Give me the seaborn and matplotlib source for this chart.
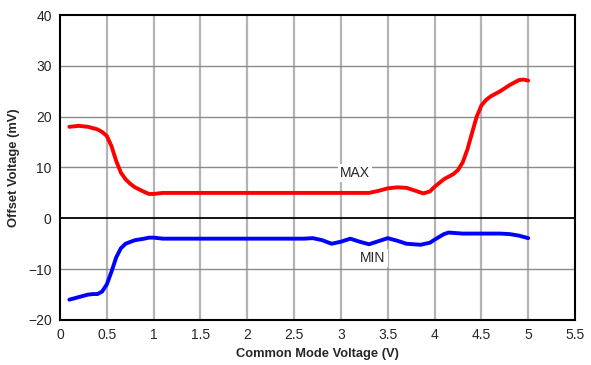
import numpy as np
import pandas as pd
import matplotlib
matplotlib.use("Agg")
import matplotlib.pyplot as plt
import seaborn as sns

# values
max_x = [0.1, 0.2, 0.3, 0.4, 0.45, 0.5, 0.55, 0.6, 0.65, 0.7, 0.75, 0.8, 0.9, 0.95, 1.0, 1.1,
         1.5, 2.0, 2.5, 3.0, 3.3, 3.4, 3.5, 3.6, 3.7, 3.8, 3.88, 3.95, 4.0, 4.1, 4.2, 4.25,
         4.3, 4.35, 4.4, 4.45, 4.5, 4.55, 4.6, 4.7, 4.8, 4.9, 4.95, 5.0]
max_y = [18.0, 18.2, 18.0, 17.5, 17.0, 16.2, 14.2, 11.3, 9.0, 7.7, 6.8, 6.1, 5.2, 4.8, 4.8, 5.0,
         5.0, 5.0, 5.0, 5.0, 5.0, 5.4, 5.9, 6.1, 6.0, 5.4, 4.9, 5.3, 6.2, 7.7, 8.7, 9.5,
         11.0, 13.5, 16.8, 20.0, 22.2, 23.3, 24.0, 25.0, 26.2, 27.2, 27.3, 27.1]

min_x = [0.1, 0.2, 0.3, 0.35, 0.4, 0.45, 0.5, 0.55, 0.6, 0.65, 0.7, 0.8, 0.9, 0.95, 1.0, 1.1,
         1.5, 2.0, 2.5, 2.6, 2.7, 2.8, 2.9, 3.0, 3.1, 3.2, 3.3, 3.4, 3.5, 3.6, 3.7, 3.85,
         3.95, 4.0, 4.1, 4.15, 4.3, 4.5, 4.7, 4.8, 4.9, 5.0]
min_y = [-16.0, -15.5, -15.0, -14.9, -14.9, -14.4, -13.0, -10.5, -7.7, -5.9, -5.0, -4.3, -4.0, -3.8, -3.8, -4.0,
         -4.0, -4.0, -4.0, -4.0, -3.9, -4.3, -5.0, -4.6, -4.0, -4.6, -5.1, -4.5, -3.9, -4.4, -5.0, -5.2,
         -4.8, -4.2, -3.1, -2.8, -3.0, -3.0, -3.0, -3.1, -3.4, -3.9]

x_ticks = [0, 0.5, 1, 1.5, 2, 2.5, 3, 3.5, 4, 4.5, 5, 5.5]
x_tick_labels = ["0", "0.5", "1", "1.5", "2", "2.5", "3", "3.5", "4", "4.5", "5", "5.5"]
y_ticks = [-20, -10, 0, 10, 20, 30, 40]

sns.set_style("white")
plt.rcParams["font.family"] = ["Liberation Sans", "DejaVu Sans"]

fig = plt.figure(figsize=(5.91, 3.65), dpi=100)
ax = fig.add_axes([0.1015, 0.1233, 0.8715, 0.8356])

df_max = pd.DataFrame({"x": max_x, "y": max_y})
df_min = pd.DataFrame({"x": min_x, "y": min_y})

# grid: light vertical lines, darker horizontal lines
for xv in x_ticks[1:-1]:
    ax.axvline(xv, color="#b4b4b4", lw=1.6, zorder=1)
for yv in y_ticks[1:-1]:
    if yv == 0:
        ax.axhline(0, color="black", lw=1.3, zorder=2)
    else:
        ax.axhline(yv, color="#8a8a8a", lw=1.0, zorder=1)

sns.lineplot(data=df_max, x="x", y="y", ax=ax, color="#ff0000", lw=2.8, zorder=3)
sns.lineplot(data=df_min, x="x", y="y", ax=ax, color="#0000ff", lw=2.8, zorder=3)

box = dict(facecolor="white", edgecolor="none", pad=1.5)
ax.text(3.15, 8.9, "MAX", ha="center", va="center", fontsize=10, bbox=box, zorder=4)
ax.text(3.34, -7.8, "MIN", ha="center", va="center", fontsize=10, bbox=box, zorder=4)

ax.set_xlim(0, 5.5)
ax.set_ylim(-20, 40)
ax.set_xticks(x_ticks)
ax.set_xticklabels(x_tick_labels)
ax.set_yticks(y_ticks)
ax.tick_params(axis="both", labelsize=10, length=0, pad=6)
ax.set_xlabel("Common Mode Voltage (V)", fontsize=9.3, fontweight="bold", labelpad=4)
ax.set_ylabel("Offset Voltage (mV)", fontsize=9.3, fontweight="bold", labelpad=6)

for s in ax.spines.values():
    s.set_visible(True)
    s.set_color("black")
    s.set_linewidth(1.5)

fig.savefig("out.png", dpi=100)
